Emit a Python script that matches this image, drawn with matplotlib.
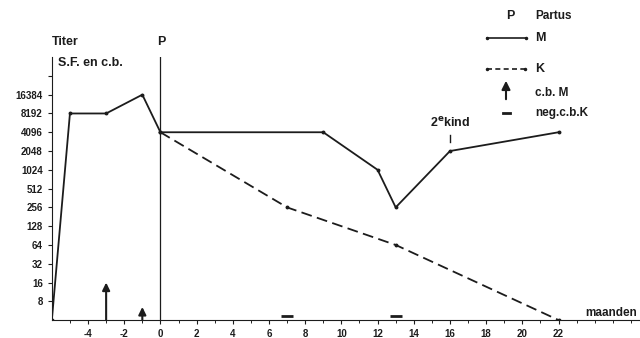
import matplotlib
matplotlib.use("Agg")
import matplotlib.pyplot as plt
from matplotlib.lines import Line2D

plt.rcParams['font.family'] = ['Liberation Sans', 'DejaVu Sans']

# titer of mother (M) and child (K), months relative to partus
m_months = [-6, -5, -3, -1, 0, 9, 12, 13, 16, 22]
m_titer = [4, 8192, 8192, 16384, 4096, 4096, 1024, 256, 2048, 4096]
k_months = [0, 7, 13, 22]
k_titer = [4096, 256, 64, 4]
cb_months = [-3, -1]          # c.b. M arrows
cb_heights = [16, 6.5]
neg_months = [7, 13]          # neg. c.b. K marks
y_ticks = [8, 16, 32, 64, 128, 256, 512, 1024, 2048, 4096, 8192, 16384, 32768]
y_labels = ['8', '16', '32', '64', '128', '256', '512', '1024', '2048', '4096', '8192', '16384', '']
x_labels = list(range(-4, 23, 2))

ink = '#1c1c1c'

fig = plt.figure(figsize=(6.4, 3.38), dpi=100)
ax = fig.add_axes([0.081, 0.053, 0.919, 0.778])
ax.set_yscale('log', base=2)
ax.set_xlim(-6, 26.5)
ax.set_ylim(4, 2 ** 16)

ax.plot(m_months, m_titer, color=ink, lw=1.3, marker='o', ms=1.8)
ax.plot(k_months, k_titer, color=ink, lw=1.3, ls=(0, (6, 3)), marker='o', ms=1.8)
ax.plot([0, 0], [4, 2 ** 16], color=ink, lw=0.9)

for mo, h in zip(cb_months, cb_heights):
    ax.annotate('', xy=(mo, h), xytext=(mo, 4),
                arrowprops=dict(arrowstyle='-|>,head_width=0.22,head_length=0.45',
                                color=ink, lw=1.5, shrinkA=0, shrinkB=0))
ax.plot(neg_months, [4.6] * len(neg_months), ls='none', marker='_',
        ms=8, mew=2, color=ink)

# second child marker
ax.plot([16, 16], [2900, 3700], color=ink, lw=1)
ax.text(16, 4500, r'2$^{\mathbf{e}}$kind', ha='center', va='bottom',
        fontsize=9, fontweight='bold', color=ink)

for s in ['top', 'right']:
    ax.spines[s].set_visible(False)
ax.spines['left'].set_color(ink)
ax.spines['bottom'].set_color(ink)
ax.set_yticks(y_ticks)
ax.set_yticklabels(y_labels)
ax.yaxis.set_minor_locator(matplotlib.ticker.NullLocator())
ax.set_xticks(x_labels)
ax.set_xticklabels([str(v) for v in x_labels])
ax.set_xticks(range(-5, 27), minor=True)
ax.tick_params(axis='both', labelsize=7, length=3, width=0.8, color=ink,
               labelcolor=ink)
ax.tick_params(axis='x', which='minor', length=2, width=0.6)
for lbl in ax.get_xticklabels() + ax.get_yticklabels():
    lbl.set_fontweight('bold')

# annotations
fig.text(52 / 640, 1 - 42 / 338, 'Titer', fontsize=9, fontweight='bold',
         va='center', color=ink)
fig.text(58 / 640, 1 - 63 / 338, 'S.F. en c.b.', fontsize=9, fontweight='bold',
         va='center', color=ink)
fig.text(161 / 640, 1 - 42 / 338, 'P', fontsize=9, fontweight='bold',
         va='center', ha='center', color=ink)
fig.text(585 / 640, 1 - 313 / 338, 'maanden', fontsize=8.5, fontweight='bold',
         va='center', color=ink)

# legend
fig.text(510 / 640, 1 - 16 / 338, 'P', fontsize=9, fontweight='bold',
         va='center', ha='center', color=ink)
fig.text(535 / 640, 1 - 16 / 338, 'Partus', fontsize=8.5, fontweight='bold',
         va='center', color=ink)
fig.add_artist(Line2D([487 / 640, 526 / 640], [1 - 38 / 338] * 2, color=ink,
                      lw=1.2, marker='o', ms=1.5, markevery=[0, 1]))
fig.text(535 / 640, 1 - 38 / 338, 'M', fontsize=9, fontweight='bold',
         va='center', color=ink)
fig.add_artist(Line2D([487 / 640, 525 / 640], [1 - 69 / 338] * 2, color=ink,
                      lw=1.2, ls=(0, (3, 2)), marker='o', ms=1.5))
fig.text(535 / 640, 1 - 69 / 338, 'K', fontsize=9, fontweight='bold',
         va='center', color=ink)
fig.patches.append(matplotlib.patches.FancyArrowPatch(
    (506 / 640, 1 - 102 / 338), (506 / 640, 1 - 78 / 338),
    transform=fig.transFigure, arrowstyle='-|>,head_width=2.5,head_length=5',
    color=ink, lw=1.5))
fig.text(535 / 640, 1 - 93 / 338, 'c.b. M', fontsize=8.5, fontweight='bold',
         va='center', color=ink)
fig.add_artist(Line2D([503 / 640, 510 / 640], [1 - 113 / 338] * 2, color=ink,
                      lw=2))
fig.text(535 / 640, 1 - 113 / 338, 'neg.c.b.K', fontsize=8.5, fontweight='bold',
         va='center', color=ink)

fig.savefig('out.png', dpi=100)
